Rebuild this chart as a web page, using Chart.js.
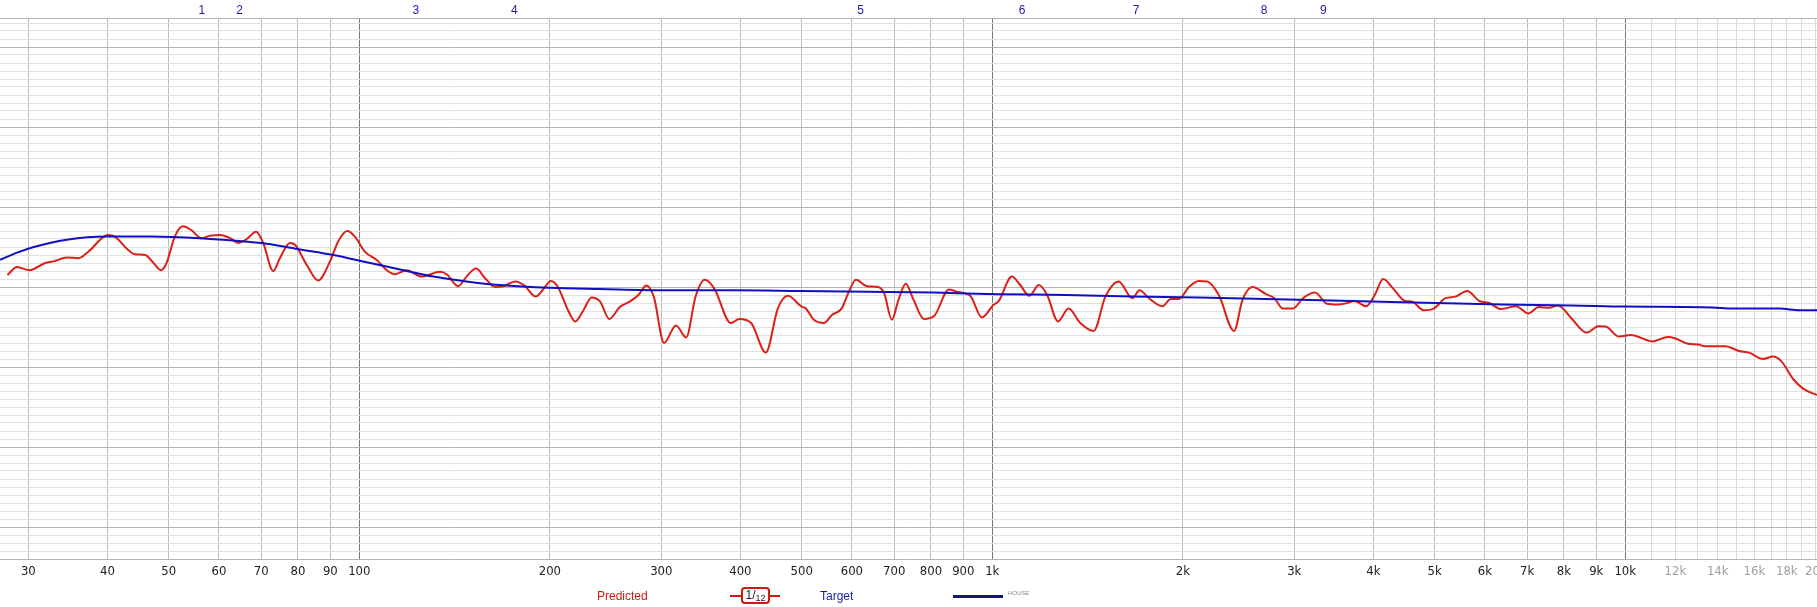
<!DOCTYPE html>
<html lang="en">
<head>
  <meta charset="UTF-8">
  <title>Predicted vs Target</title>
  <script src="https://cdn.jsdelivr.net/npm/chart.js"></script>
  <style>
    body { margin: 0; background: #fff; font-family: 'Liberation Sans', Arial, sans-serif; }
    .wrap { position: relative; width: 1817px; height: 607px; }
    .legend { position: absolute; top: 587px; height: 18px; line-height: 18px; font-size: 12px; white-space: nowrap; }
    .red-text { left: 597px; color: #cc1a14; }
    .blue-text { left: 820px; color: #1a1aa8; }
    .red-line { position: absolute; left: 730px; top: 595px; width: 50px; height: 2px; background: #cc1a14; }
    .red-box { position: absolute; left: 741px; top: 587px; width: 25px; height: 13px; border: 2px solid #cc1a14; border-radius: 4px; background: #fff;
               font-size: 12px; line-height: 12px; text-align: center; color: #222; }
    .red-box sub { font-size: 9px; vertical-align: -2px; }
    .blue-line { position: absolute; left: 953px; top: 595px; width: 50px; height: 3px; background: #14147a; }
    .tiny { position: absolute; left: 1008px; top: 590px; font-size: 6px; color: #888; }
  </style>
</head>
<body>
<div class="wrap">
  <canvas id="chart" width="1817" height="607"></canvas>
  <div class="legend red-text">Predicted</div>
  <div class="red-line"></div>
  <div class="red-box">1/<sub>12</sub></div>
  <div class="legend blue-text">Target</div>
  <div class="blue-line"></div>
  <div class="tiny">HOUSE</div>
</div>

<script>
  // frequency axis
  const xTicks = [30, 40, 50, 60, 70, 80, 90, 100, 200, 300, 400, 500, 600, 700, 800, 900,
                  1000, 2000, 3000, 4000, 5000, 6000, 7000, 8000, 9000, 10000,
                  11000, 12000, 13000, 14000, 15000, 16000, 17000, 18000, 19000, 20000];
  const xTickLabels = ['30', '40', '50', '60', '70', '80', '90', '100', '200', '300', '400', '500', '600', '700', '800', '900',
                       '1k', '2k', '3k', '4k', '5k', '6k', '7k', '8k', '9k', '10k',
                       '', '12k', '', '14k', '', '16k', '', '18k', '', '20k'];

  // filter markers along the top
  const filterFreqs = [56.4, 64.7, 122.8, 175.7, 619.6, 1115, 1687, 2687, 3334];
  const filterLabels = ['1', '2', '3', '4', '5', '6', '7', '8', '9'];

  // Predicted (red)
  const predictedFreq = [27.8, 28.8, 30.1, 31.9, 32.9, 34.5, 36.0, 37.3, 40.1, 41.1, 42.9, 44.2, 45.9, 47.3, 48.6, 49.6,
    51.1, 52.6, 54.3, 56.3, 58.1, 60.3, 62.5, 64.4, 66.4, 68.7, 70.5, 73.1, 74.9, 77.7, 79.2, 82.6, 86.1, 89.9,
    92.6, 95.7, 98.4, 102.1, 106.5, 110.5, 113.9, 118.8, 125.4, 134.1, 137.4, 143.3, 147.7, 152.9, 158.0, 163.9,
    169.0, 176.4, 181.9, 190.0, 194.7, 200.8, 205.9, 213.7, 219.3, 226, 232.8, 240, 248.3, 258, 267.7, 276, 284,
    291.9, 303, 316.5, 328.4, 339.8, 351.4, 363.8, 386.4, 398.4, 416, 438.8, 458.3, 475.6, 498.6, 507.6, 522.5,
    542, 558, 578, 592, 609, 634, 660, 675, 694, 711, 730, 751, 780, 810, 854, 880, 923, 963, 1004, 1023, 1074,
    1107, 1144, 1185, 1221, 1270, 1320, 1377, 1446, 1509, 1584, 1664, 1709, 1768, 1857, 1914, 1972, 2045, 2120,
    2185, 2280, 2410, 2485, 2578, 2707, 2791, 2877, 2985, 3097, 3236, 3379, 3507, 3640, 3730, 3897, 4020, 4145,
    4300, 4490, 4600, 4800, 4980, 5200, 5390, 5630, 5880, 6100, 6360, 6720, 7030, 7300, 7580, 7830, 8220, 8690,
    9070, 9310, 9780, 10200, 11050, 11680, 11980, 12570, 13040, 13360, 14400, 15130, 15690, 16510, 17120, 17650,
    18420, 19100, 20080];
  const predictedDb = [71.5, 72.5, 72.1, 73.0, 73.2, 73.7, 73.6, 74.4, 76.5, 76.3, 74.8, 74.1, 74.0, 73.0, 72.1, 73.0,
    76.3, 77.6, 77.1, 76.1, 76.4, 76.5, 76.1, 75.5, 76.0, 76.9, 75.5, 72.0, 73.6, 75.5, 75.25, 72.75, 70.8, 73.2,
    75.7, 77.0, 76.3, 74.4, 73.4, 72.1, 71.6, 72.1, 71.3, 71.9, 71.6, 70.1, 71.3, 72.3, 71.1, 70.0,
    70.1, 70.7, 70.25, 68.8, 69.6, 70.75, 70.0, 67.1, 65.7, 67.1, 68.7, 68.2, 66.0, 67.5, 68.2, 69.0, 70.2,
    68.8, 63.0, 65.2, 63.7, 68.8, 70.9, 69.8, 65.5, 66.0, 65.5, 61.8, 67.3, 68.9, 67.6, 67.3, 65.9,
    65.5, 66.5, 67.3, 69.2, 70.9, 70.1, 70.0, 69.2, 65.9, 68.4, 70.4, 68.4, 66.0, 66.4, 69.7, 69.4, 68.9, 66.2, 67.75, 68.2, 71.3,
    70.25, 68.9, 70.25, 69.0, 65.7, 67.3, 65.5, 64.5, 68.8, 70.7, 68.6, 69.6, 68.6, 67.6, 68.5, 68.5, 70.0, 70.75,
    70.7, 69.0, 64.5, 68.4, 70.0, 69.1, 68.6, 67.3, 67.3, 68.6, 69.3, 67.9, 67.8, 68.0, 68.25, 67.6, 69.0, 71.0,
    69.8, 68.25, 68.2, 67.1, 67.3, 68.6, 68.8, 69.5, 68.25, 68.0, 67.25, 67.6, 66.7, 67.5, 67.4, 67.7, 66.1, 64.3,
    65.1, 65.05, 63.8, 64.0, 63.2, 63.75, 63.6, 62.9, 62.8, 62.6, 62.6, 62.0, 61.8, 61.0, 61.3, 60.7,
    58.5, 57.3, 56.5];

  // Target (blue)
  const targetFreq = [27.06, 28.8, 30.6, 34.5, 39.9, 46.7, 56.0, 63.2, 71.4, 80.6, 91.0, 102.7, 116, 130.9, 147.7,
    166.8, 200, 240, 306, 390, 498, 808, 1023, 1305, 1664, 2120, 3060, 4430, 6400, 8220, 10000, 13700, 14800,
    17500, 18900, 20090];
  const targetDb = [73.4, 74.3, 75.0, 75.9, 76.3, 76.3, 76.1, 75.8, 75.4, 74.7, 74.0, 73.1, 72.2, 71.3, 70.7,
    70.25, 69.9, 69.75, 69.6, 69.6, 69.5, 69.3, 69.1, 69.0, 68.8, 68.7, 68.4, 68.1, 67.8, 67.7, 67.55, 67.45, 67.3,
    67.3, 67.1, 67.1];

  const X_MIN = 27.06, X_MAX = 20090;
  const Y_MIN = 36, Y_MAX = 103.625;

  const predicted = predictedFreq.map((f, i) => ({ x: f, y: predictedDb[i] }));
  const target = targetFreq.map((f, i) => ({ x: f, y: targetDb[i] }));

  const yGrid = [];
  for (let v = Y_MIN; v <= Y_MAX; v++) yGrid.push({ value: v });
  yGrid.push({ value: Y_MAX });

  const tickFont = { family: "'Liberation Sans Narrow', 'DejaVu Sans Condensed', 'Liberation Sans', sans-serif", size: 13 };

  function vGridColor(v) {
    if (v === 100 || v === 1000 || v === 10000) return '#767676';
    if (v > 10000) return '#dadada';
    return '#bcbcbc';
  }

  function hGridColor(v) {
    if (v === Y_MIN || v === Y_MAX || v % 10 === 0) return '#b4b4b4';
    return '#e0e0e0';
  }

  new Chart(document.getElementById('chart'), {
    type: 'line',
    data: {
      datasets: [
        { label: 'Predicted', data: predicted, borderColor: '#dc2018', borderWidth: 2, pointRadius: 0,
          cubicInterpolationMode: 'monotone', order: 1 },
        { label: 'Target', data: target, borderColor: '#1010c0', borderWidth: 2, pointRadius: 0,
          cubicInterpolationMode: 'monotone', order: 0 }
      ]
    },
    options: {
      responsive: false,
      animation: false,
      layout: { padding: 0 },
      plugins: { legend: { display: false }, tooltip: { enabled: false } },
      scales: {
        x: {
          type: 'logarithmic', position: 'bottom', min: X_MIN, max: X_MAX,
          afterBuildTicks: s => { s.ticks = xTicks.map(v => ({ value: v })); },
          afterFit: s => { s.height = 48; s.paddingLeft = 0; s.paddingRight = 0; },
          border: { display: false },
          grid: { drawTicks: false, lineWidth: 1, color: c => vGridColor(c.tick ? c.tick.value : 0) },
          ticks: {
            autoSkip: false, maxRotation: 0, padding: 5, font: tickFont,
            color: c => (c.tick && c.tick.value > 10000) ? '#a0a0a0' : '#222',
            callback: (v, i) => xTickLabels[i]
          }
        },
        x2: {
          type: 'logarithmic', position: 'top', min: X_MIN, max: X_MAX,
          afterBuildTicks: s => { s.ticks = filterFreqs.map(v => ({ value: v })); },
          afterFit: s => { s.height = 18; s.paddingLeft = 0; s.paddingRight = 0; },
          border: { display: false },
          grid: { display: false, drawTicks: false },
          ticks: {
            autoSkip: false, maxRotation: 0, padding: 0, color: '#1c1ca0',
            font: { family: "'Liberation Sans', sans-serif", size: 12 },
            callback: (v, i) => filterLabels[i]
          }
        },
        y: {
          type: 'linear', min: Y_MIN, max: Y_MAX, z: -1,
          afterBuildTicks: s => { s.ticks = yGrid.slice(); },
          afterFit: s => { s.width = 0; },
          border: { display: false },
          grid: { drawTicks: false, lineWidth: 1, color: c => hGridColor(c.tick ? c.tick.value : 0) },
          ticks: { display: false }
        }
      }
    }
  });
</script>
</body>
</html>
